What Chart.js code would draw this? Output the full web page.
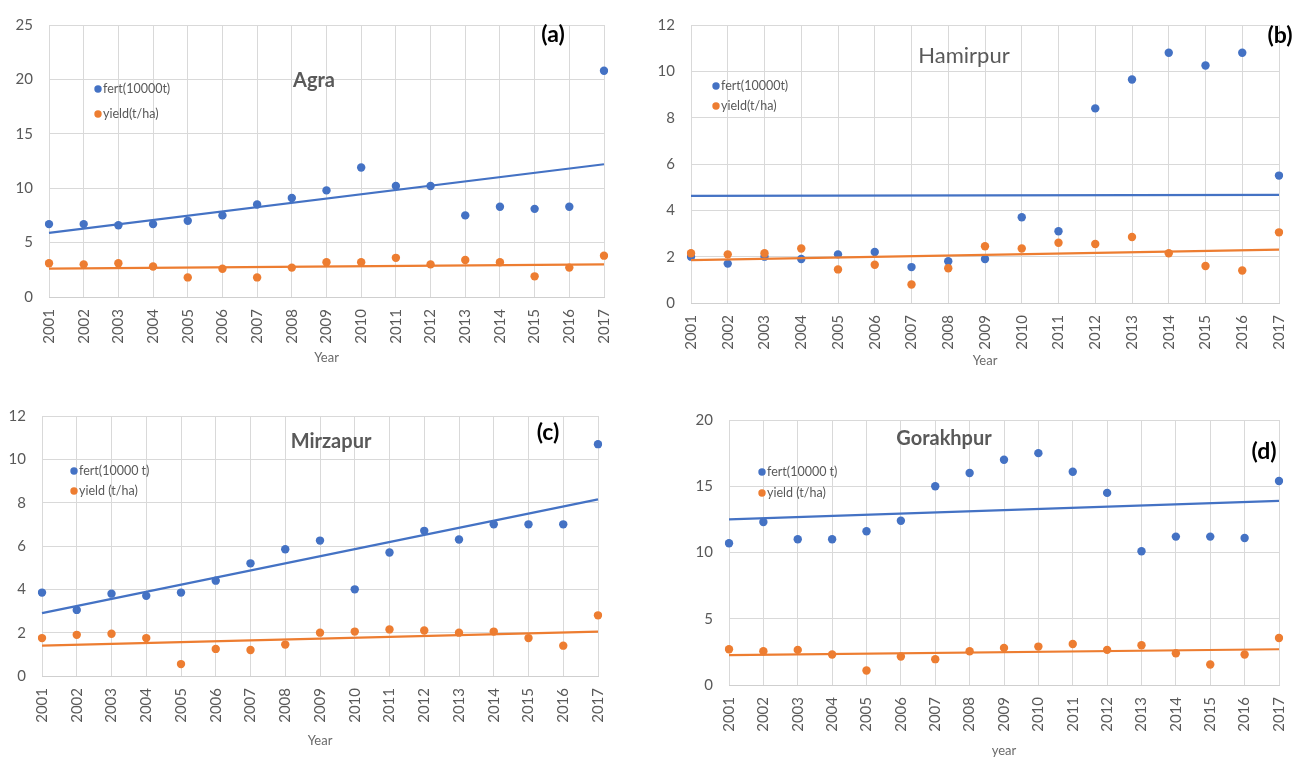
<!DOCTYPE html>
<html>
<head>
<meta charset="utf-8">
<script src="https://cdn.jsdelivr.net/npm/chart.js@4/dist/chart.umd.min.js"></script>
<style>
  html, body { margin: 0; padding: 0; background: #ffffff; }
  body { width: 1309px; height: 757px; position: relative; overflow: hidden; }
  canvas { position: absolute; display: block; }
</style>
</head>
<body>
<canvas id="agra" width="650" height="380" style="left:0px;top:0px"></canvas>
<canvas id="hamirpur" width="659" height="380" style="left:650px;top:0px"></canvas>
<canvas id="mirzapur" width="650" height="372" style="left:0px;top:385px"></canvas>
<canvas id="gorakhpur" width="659" height="372" style="left:650px;top:385px"></canvas>
<script>
// ---- data -------------------------------------------------------------
const years = ['2001','2002','2003','2004','2005','2006','2007','2008','2009',
               '2010','2011','2012','2013','2014','2015','2016','2017'];

// Agra
const agraFert  = [6.7, 6.7, 6.6, 6.7, 7.0, 7.5, 8.5, 9.1, 9.8, 11.9, 10.2, 10.2, 7.5, 8.3, 8.1, 8.3, 20.8];
const agraYield = [3.1, 3.0, 3.1, 2.8, 1.8, 2.6, 1.8, 2.7, 3.2, 3.2, 3.6, 3.0, 3.4, 3.2, 1.9, 2.7, 3.8];
const agraFertTrend  = [5.9, 12.2];   // trend value at 2001 and 2017
const agraYieldTrend = [2.6, 3.0];

// Hamirpur
const hamirpurFert  = [2.0, 1.7, 2.0, 1.9, 2.1, 2.2, 1.55, 1.8, 1.9, 3.7, 3.1, 8.4, 9.65, 10.8, 10.25, 10.8, 5.5];
const hamirpurYield = [2.15, 2.1, 2.15, 2.35, 1.45, 1.65, 0.8, 1.5, 2.45, 2.35, 2.6, 2.55, 2.85, 2.15, 1.6, 1.4, 3.05];
const hamirpurFertTrend  = [4.62, 4.67];
const hamirpurYieldTrend = [1.85, 2.3];

// Mirzapur
const mirzapurFert  = [3.85, 3.05, 3.8, 3.7, 3.85, 4.4, 5.2, 5.85, 6.25, 4.0, 5.7, 6.7, 6.3, 7.0, 7.0, 7.0, 10.7];
const mirzapurYield = [1.75, 1.9, 1.95, 1.75, 0.55, 1.25, 1.2, 1.45, 2.0, 2.05, 2.15, 2.1, 2.0, 2.05, 1.75, 1.4, 2.8];
const mirzapurFertTrend  = [2.9, 8.15];
const mirzapurYieldTrend = [1.4, 2.05];

// Gorakhpur
const gorakhpurFert  = [10.7, 12.3, 11.0, 11.0, 11.6, 12.4, 15.0, 16.0, 17.0, 17.5, 16.1, 14.5, 10.1, 11.2, 11.2, 11.1, 15.4];
const gorakhpurYield = [2.7, 2.55, 2.65, 2.3, 1.1, 2.15, 1.95, 2.55, 2.8, 2.9, 3.1, 2.65, 3.0, 2.4, 1.55, 2.3, 3.55];
const gorakhpurFertTrend  = [12.5, 13.9];
const gorakhpurYieldTrend = [2.25, 2.7];

// y-axis tick setup per panel
const agraTicks      = { max: 25, step: 5 };
const hamirpurTicks  = { max: 12, step: 2 };
const mirzapurTicks  = { max: 12, step: 2 };
const gorakhpurTicks = { max: 20, step: 5 };

// ---- styling ----------------------------------------------------------
const BLUE = '#4472C4';
const ORANGE = '#ED7D31';
const GRID = '#d9d9d9';
const TEXT = '#595959';
Chart.defaults.font.family = 'Lato, "Open Sans", sans-serif';
Chart.defaults.color = TEXT;

// Draws the in-plot legend, the district name and the panel letter
const panelText = {
  id: 'panelText',
  afterDraw(chart, args, o) {
    const ctx = chart.ctx;
    ctx.save();
    // legend
    ctx.textBaseline = 'middle';
    ctx.textAlign = 'left';
    ctx.font = '12.5px Lato, sans-serif';
    o.legend.forEach((item, i) => {
      const y = o.legendY[i];
      ctx.fillStyle = item.color;
      ctx.beginPath();
      ctx.arc(o.legendX, y, 3.7, 0, Math.PI * 2);
      ctx.fill();
      ctx.fillStyle = TEXT;
      ctx.fillText(item.text, o.legendX + 5, y);
    });
    // district name
    ctx.textAlign = 'center';
    ctx.fillStyle = TEXT;
    ctx.font = o.titleFont;
    ctx.fillText(o.title, o.titleX, o.titleY);
    // panel letter
    ctx.fillStyle = '#000000';
    ctx.font = 'bold 23px Lato, sans-serif';
    ctx.fillText(o.letter, o.letterX, o.letterY);
    ctx.restore();
  }
};

function trendPoints(pair) {
  return [{ x: years[0], y: pair[0] }, { x: years[years.length - 1], y: pair[1] }];
}

function makePanel(id, d, g) {
  const canvas = document.getElementById(id);
  const W = canvas.width, H = canvas.height;
  const yw = g.l;                                  // y-axis box width
  const xh = Math.round(g.xTitleY + 11.8 - g.b);  // x-axis box height
  new Chart(canvas, {
    type: 'line',
    data: {
      labels: years,
      datasets: [
        { label: d.fertLabel, data: d.fert, showLine: false, pointRadius: 4.2,
          pointBackgroundColor: BLUE, pointBorderWidth: 0, borderColor: BLUE, order: 4 },
        { label: d.yieldLabel, data: d.yield, showLine: false, pointRadius: 4.2,
          pointBackgroundColor: ORANGE, pointBorderWidth: 0, borderColor: ORANGE, order: 3 },
        { label: 'fert trend', data: trendPoints(d.fertTrend), borderColor: BLUE,
          borderWidth: 2.2, pointRadius: 0, order: 2 },
        { label: 'yield trend', data: trendPoints(d.yieldTrend), borderColor: ORANGE,
          borderWidth: 2.2, pointRadius: 0, order: 1 }
      ]
    },
    options: {
      responsive: false,
      animation: false,
      events: [],
      layout: { padding: { left: 0, top: g.t, right: W - g.r, bottom: H - g.b - xh } },
      plugins: {
        legend: { display: false },
        tooltip: { enabled: false },
        panelText: {
          legend: [{ text: d.fertLabel, color: BLUE }, { text: d.yieldLabel, color: ORANGE }],
          legendX: g.legendX, legendY: g.legendY,
          title: d.title, titleFont: g.titleFont, titleX: g.titleX, titleY: g.titleY,
          letter: d.letter, letterX: g.letterX, letterY: g.letterY
        }
      },
      scales: {
        x: {
          type: 'category',
          offset: false,
          grid: { color: GRID, lineWidth: 1, drawTicks: false },
          border: { color: '#cfcfcf' },
          ticks: { font: { size: 15 }, color: TEXT, minRotation: 90, maxRotation: 90,
                   autoSkip: false, padding: 12 },
          title: { display: true, text: d.xTitle, color: '#6a6a6a', font: { size: 13 },
                   padding: { top: 4, bottom: 4 } },
          afterFit(s) { s.height = xh; }
        },
        y: {
          min: 0, max: d.ticks.max,
          grid: { color: GRID, lineWidth: 1, drawTicks: false },
          border: { display: false },
          ticks: { stepSize: d.ticks.step, font: { size: 15 }, color: TEXT, padding: 16 },
          afterFit(s) { s.width = yw; }
        }
      }
    },
    plugins: [panelText]
  });
}

makePanel('agra',
  { fert: agraFert, yield: agraYield, fertTrend: agraFertTrend, yieldTrend: agraYieldTrend,
    ticks: agraTicks, fertLabel: 'fert(10000t)', yieldLabel: 'yield(t/ha)',
    title: 'Agra', letter: '(a)', xTitle: 'Year' },
  { l: 49, t: 16, r: 604, b: 297, xTitleY: 358,
    legendX: 98, legendY: [89, 114],
    titleFont: 'bold 20px Lato, sans-serif', titleX: 314, titleY: 81,
    letterX: 553, letterY: 35 });

makePanel('hamirpur',
  { fert: hamirpurFert, yield: hamirpurYield, fertTrend: hamirpurFertTrend, yieldTrend: hamirpurYieldTrend,
    ticks: hamirpurTicks, fertLabel: 'fert(10000t)', yieldLabel: 'yield(t/ha)',
    title: 'Hamirpur', letter: '(b)', xTitle: 'Year' },
  { l: 41, t: 19, r: 644, b: 303, xTitleY: 361,
    legendX: 66, legendY: [86, 106],
    titleFont: '22px Lato, sans-serif', titleX: 314, titleY: 56,
    letterX: 630, letterY: 36 });

makePanel('mirzapur',
  { fert: mirzapurFert, yield: mirzapurYield, fertTrend: mirzapurFertTrend, yieldTrend: mirzapurYieldTrend,
    ticks: mirzapurTicks, fertLabel: 'fert(10000 t)', yieldLabel: 'yield (t/ha)',
    title: 'Mirzapur', letter: '(c)', xTitle: 'Year' },
  { l: 42, t: 31, r: 598, b: 291, xTitleY: 356,
    legendX: 74, legendY: [86, 106],
    titleFont: 'bold 20px Lato, sans-serif', titleX: 331, titleY: 57,
    letterX: 548, letterY: 48 });

makePanel('gorakhpur',
  { fert: gorakhpurFert, yield: gorakhpurYield, fertTrend: gorakhpurFertTrend, yieldTrend: gorakhpurYieldTrend,
    ticks: gorakhpurTicks, fertLabel: 'fert(10000 t)', yieldLabel: 'yield (t/ha)',
    title: 'Gorakhpur', letter: '(d)', xTitle: 'year' },
  { l: 79, t: 35, r: 631, b: 300, xTitleY: 366,
    legendX: 112, legendY: [87, 108],
    titleFont: 'bold 20px Lato, sans-serif', titleX: 294, titleY: 54,
    letterX: 614, letterY: 67 });
</script>
</body>
</html>
